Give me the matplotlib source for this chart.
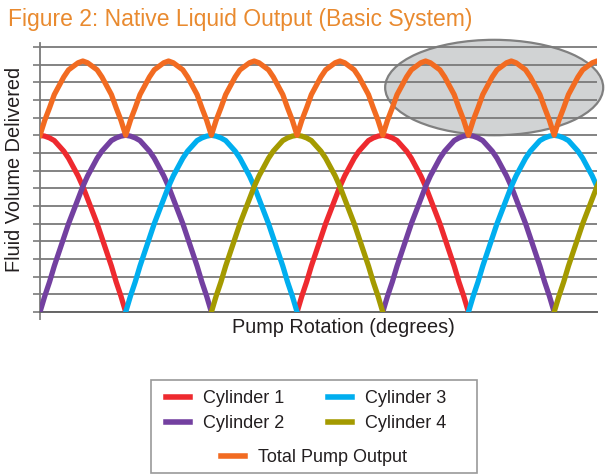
import matplotlib
matplotlib.use("Agg")
import matplotlib.pyplot as plt
from matplotlib.patches import Ellipse, Rectangle
from matplotlib.lines import Line2D
import numpy as np

plt.rcParams['font.family'] = ['Liberation Sans', 'DejaVu Sans']

# Shape of one delivery stroke (half turn), every 5 degrees
stroke_angles = list(range(0, 181, 5))
stroke_volume = [0.0, 0.9, 1.7, 2.6, 3.4, 4.2, 5.0, 5.7, 6.4, 7.1,
                 7.7, 8.2, 8.7, 9.1, 9.4, 9.7, 9.85, 9.95, 10.0,
                 9.95, 9.85, 9.7, 9.4, 9.1, 8.7, 8.2, 7.7, 7.1, 6.4,
                 5.7, 5.0, 4.2, 3.4, 2.6, 1.7, 0.9, 0.0]

# Rotation angle (degrees) where each cylinder starts a stroke
cylinder_names = ["Cylinder 1", "Cylinder 2", "Cylinder 3", "Cylinder 4"]
stroke_starts = [[-90, 270], [0, 360], [90, 450], [180, 540]]
cylinder_colors = ["#ee2a2f", "#7340a0", "#00aeef", "#a49a00"]
total_color = "#f26b21"

rotation = np.arange(-90, 721, 5)

# Build each cylinder series from the stroke shape
cylinders = []
for starts in stroke_starts:
    vals = np.full(len(rotation), np.nan)
    for s in starts:
        for a, v in zip(stroke_angles, stroke_volume):
            vals[rotation == s + a] = v
    cylinders.append(vals)
total = np.nansum(np.vstack(cylinders), axis=0)
keep = rotation >= 0

fig = plt.figure(figsize=(6.05, 4.76), dpi=100)
ax = fig.add_axes([40 / 605, 1 - 312 / 476, 557 / 605, 269 / 476])

for vals, name, col in zip(cylinders, cylinder_names, cylinder_colors):
    ax.plot(rotation, vals, color=col, lw=3.8, label=name, zorder=3)
ax.plot(rotation[keep], total[keep], color=total_color, lw=3.8,
        label="Total Pump Output", zorder=4)

# highlight ellipse
ell = Ellipse((477, 12.7), 229, 5.4, facecolor="#d1d3d4",
              edgecolor="#808080", lw=1.6, zorder=1, clip_on=False)
ax.add_patch(ell)

ax.set_xlim(0, 585)
ax.set_ylim(0, 15.22)
ax.set_yticks(range(0, 16))
ax.set_xticks([0])
ax.set_yticklabels([])
ax.set_xticklabels([])
ax.grid(axis="y", color="#7a7a7a", lw=1.3)
ax.tick_params(axis="y", length=5, width=1.2, color="#7a7a7a")
ax.tick_params(axis="x", length=6, width=1.2, color="#7a7a7a")
for side in ["top", "right"]:
    ax.spines[side].set_visible(False)
ax.spines["left"].set_color("#7a7a7a")
ax.spines["left"].set_linewidth(1.3)
ax.spines["bottom"].set_color("#666666")
ax.spines["bottom"].set_linewidth(1.4)

ax.set_xlabel("Pump Rotation (degrees)", fontsize=14.3, color="#231f20")
ax.set_ylabel("Fluid Volume Delivered", fontsize=14.3, color="#231f20")
ax.xaxis.set_label_coords(0.545, -0.024)
ax.yaxis.set_label_coords(-0.029, 0.53)

fig.text(8 / 605, 1 - 26 / 476, "Figure 2: Native Liquid Output (Basic System)",
         fontsize=16.5, color="#e98a2f", va="baseline", ha="left")

# legend box
fig.patches.append(Rectangle((151 / 605, 1 - 473 / 476), 326 / 605, 93 / 476,
                             transform=fig.transFigure, facecolor="white",
                             edgecolor="#999999", lw=1.2))
handles = [Line2D([], [], color=c, lw=4) for c in cylinder_colors]
leg1 = fig.legend(handles, cylinder_names, ncol=2, frameon=False,
                  loc="center", bbox_to_anchor=(306 / 605, 1 - 411 / 476),
                  fontsize=13, handlelength=1.35, handletextpad=0.7,
                  columnspacing=2.4, labelspacing=0.45, labelcolor="#231f20")
leg2 = fig.legend([Line2D([], [], color=total_color, lw=4)], ["Total Pump Output"],
                  frameon=False, loc="center",
                  bbox_to_anchor=(314 / 605, 1 - 458 / 476),
                  fontsize=13, handlelength=1.35, handletextpad=0.7,
                  labelcolor="#231f20")

fig.savefig("out.png", dpi=100)
